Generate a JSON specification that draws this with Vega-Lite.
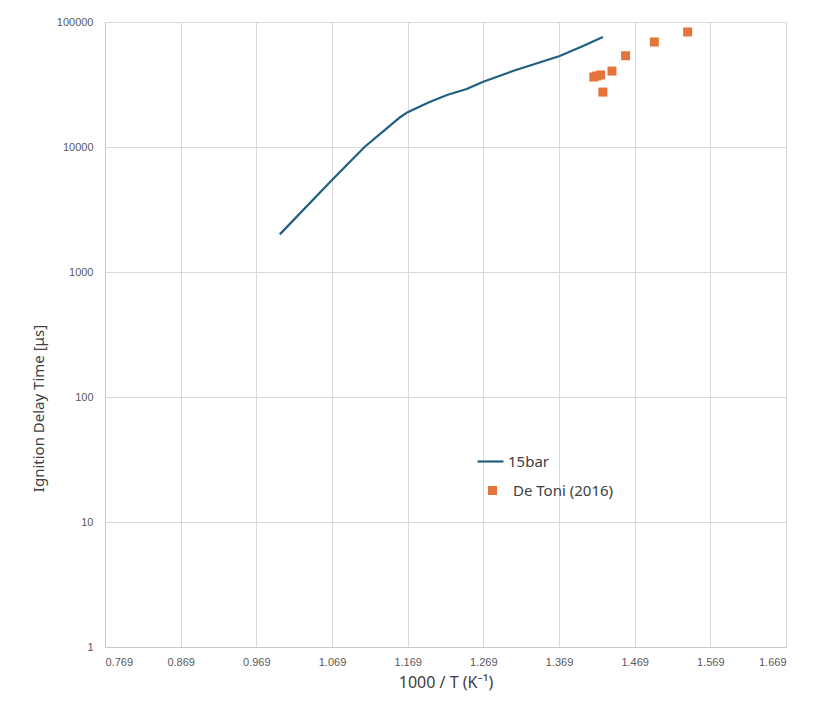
{
  "$schema": "https://vega.github.io/schema/vega-lite/v6.json",
  "autosize": {"type": "none"},
  "width": 681,
  "height": 625,
  "padding": {"left": 105, "top": 22, "right": 44, "bottom": 81},
  "background": "white",
  "config": {
    "view": {"stroke": null},
    "font": "Noto Sans",
    "axis": {
      "gridColor": "#d9d9d9",
      "gridWidth": 1,
      "domainColor": "#c8c8c8",
      "ticks": false,
      "labelColor": "#595959",
      "labelFontSize": 11,
      "labelFont": "Liberation Sans",
      "titleColor": "#404040",
      "titleFontSize": 15,
      "titleFontWeight": "normal"
    }
  },
  "datasets": {
    "sim": [
      {"invT": 1.000, "tau": 2000, "series": "15bar"},
      {"invT": 1.069, "tau": 5450, "series": "15bar"},
      {"invT": 1.112, "tau": 10000, "series": "15bar"},
      {"invT": 1.139, "tau": 13700, "series": "15bar"},
      {"invT": 1.159, "tau": 17300, "series": "15bar"},
      {"invT": 1.169, "tau": 19000, "series": "15bar"},
      {"invT": 1.198, "tau": 22900, "series": "15bar"},
      {"invT": 1.221, "tau": 26100, "series": "15bar"},
      {"invT": 1.247, "tau": 29100, "series": "15bar"},
      {"invT": 1.268, "tau": 33100, "series": "15bar"},
      {"invT": 1.308, "tau": 40500, "series": "15bar"},
      {"invT": 1.370, "tau": 53500, "series": "15bar"},
      {"invT": 1.400, "tau": 64000, "series": "15bar"},
      {"invT": 1.427, "tau": 75900, "series": "15bar"}
    ],
    "exp": [
      {"invT": 1.415, "tau": 36300, "series": "De Toni (2016)"},
      {"invT": 1.419, "tau": 37000, "series": "De Toni (2016)"},
      {"invT": 1.424, "tau": 37700, "series": "De Toni (2016)"},
      {"invT": 1.439, "tau": 40500, "series": "De Toni (2016)"},
      {"invT": 1.427, "tau": 27500, "series": "De Toni (2016)"},
      {"invT": 1.457, "tau": 53700, "series": "De Toni (2016)"},
      {"invT": 1.495, "tau": 69200, "series": "De Toni (2016)"},
      {"invT": 1.539, "tau": 83200, "series": "De Toni (2016)"}
    ]
  },
  "encoding": {
    "x": {
      "field": "invT",
      "type": "quantitative",
      "scale": {"domain": [0.769, 1.669], "nice": false, "zero": false},
      "axis": {
        "values": [0.769, 0.869, 0.969, 1.069, 1.169, 1.269, 1.369, 1.469, 1.569, 1.669],
        "format": ".3f",
        "labelPadding": 9,
        "title": "1000 / T (K⁻¹)",
        "titleFontSize": 16,
        "titlePadding": 7
      }
    },
    "y": {
      "field": "tau",
      "type": "quantitative",
      "scale": {"type": "log", "domain": [1, 100000], "nice": false},
      "axis": {
        "values": [1, 10, 100, 1000, 10000, 100000],
        "format": "d",
        "labelPadding": 12,
        "title": "Ignition Delay Time [μs]",
        "titleX": -62,
        "titleY": 386,
        "titleAlign": "center",
        "titleBaseline": "alphabetic",
        "titleAngle": -90
      }
    }
  },
  "layer": [
    {
      "data": {"name": "sim"},
      "mark": {"type": "line", "strokeWidth": 2.2},
      "encoding": {
        "stroke": {
          "field": "series",
          "type": "nominal",
          "scale": {"domain": ["15bar"], "range": ["#1f5f82"]},
          "legend": {
            "title": null,
            "orient": "none",
            "legendX": 371,
            "legendY": 425,
            "padding": 0,
            "symbolType": "stroke",
            "symbolSize": 676,
            "symbolStrokeWidth": 2.2,
            "labelFontSize": 15,
            "labelColor": "#404040",
            "labelOffset": 3
          }
        }
      }
    },
    {
      "data": {"name": "exp"},
      "mark": {"type": "square", "size": 81, "opacity": 1},
      "encoding": {
        "fill": {
          "field": "series",
          "type": "nominal",
          "scale": {"domain": ["De Toni (2016)"], "range": ["#e5743a"]},
          "legend": {
            "title": null,
            "orient": "none",
            "legendX": 380,
            "legendY": 461,
            "padding": 0,
            "symbolType": "square",
            "symbolSize": 81,
            "symbolOpacity": 1,
            "labelFontSize": 15,
            "labelColor": "#404040",
            "labelOffset": 13
          }
        }
      }
    }
  ]
}
